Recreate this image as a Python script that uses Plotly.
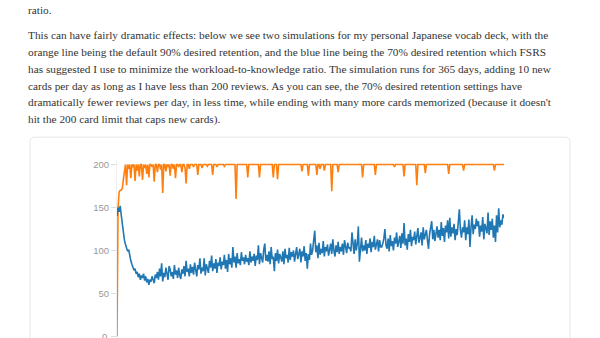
import plotly.graph_objects as go

# ---------------- data ----------------
days = list(range(365))

reviews_90 = [
    0, 150, 168, 170, 170, 172, 183, 194, 200, 176,
    200, 195, 200, 184, 200, 198, 200, 181, 200, 193,
    200, 186, 200, 200, 182, 200, 196, 200, 189, 200,
    185, 200, 200, 197, 200, 180, 200, 200, 191, 200,
    200, 194, 200, 167, 200, 200, 192, 200, 198, 200,
    187, 200, 200, 195, 200, 184, 200, 200, 197, 200,
    200, 191, 200, 200, 196, 178, 200, 200, 195, 200,
    200, 200, 197, 200, 200, 200, 188, 200, 200, 200,
    196, 200, 200, 200, 200, 198, 200, 200, 200, 200,
    188, 200, 200, 200, 197, 200, 200, 200, 200, 200,
    200, 198, 200, 200, 200, 200, 200, 200, 200, 200,
    200, 200, 160, 200, 200, 200, 200, 200, 200, 200,
    200, 200, 200, 185, 200, 200, 200, 200, 200, 200,
    200, 200, 200, 200, 185, 200, 200, 200, 200, 200,
    200, 200, 200, 200, 200, 200, 200, 185, 200, 200,
    200, 183, 200, 200, 200, 200, 200, 200, 200, 200,
    200, 200, 200, 200, 200, 200, 200, 200, 200, 200,
    200, 200, 200, 200, 192, 200, 200, 200, 200, 200,
    187, 200, 200, 200, 200, 200, 200, 200, 188, 200,
    200, 195, 200, 200, 200, 193, 200, 200, 200, 200,
    200, 200, 169, 200, 200, 200, 200, 200, 191, 200,
    200, 200, 200, 200, 200, 200, 200, 200, 200, 200,
    200, 200, 200, 200, 200, 200, 200, 200, 200, 200,
    200, 185, 200, 200, 200, 200, 200, 200, 200, 200,
    200, 200, 200, 188, 200, 200, 200, 200, 200, 200,
    200, 200, 200, 200, 200, 200, 200, 200, 200, 200,
    200, 197, 200, 200, 200, 200, 200, 200, 200, 200,
    186, 200, 200, 200, 200, 200, 200, 200, 200, 200,
    200, 200, 176, 200, 200, 200, 200, 200, 200, 200,
    190, 200, 200, 200, 200, 200, 200, 200, 200, 200,
    200, 200, 200, 200, 200, 200, 200, 200, 200, 200,
    200, 200, 189, 200, 200, 200, 200, 200, 200, 200,
    200, 200, 200, 200, 200, 200, 193, 200, 200, 200,
    200, 200, 200, 200, 200, 200, 200, 200, 200, 200,
    200, 200, 200, 200, 200, 200, 200, 200, 200, 200,
    200, 200, 200, 200, 200, 193, 200, 200, 200, 200,
    200, 200, 200, 200, 200,
]

reviews_70 = [
    140, 150, 145, 152, 141, 130, 122, 112, 107, 103,
    99, 101, 93, 88, 84, 80, 77, 79, 73, 75,
    69, 73, 66, 71, 68, 73, 65, 70, 63, 67,
    60, 66, 64, 70, 67, 62, 72, 68, 75, 66,
    79, 70, 85, 64, 74, 69, 80, 71, 66, 82,
    78, 70, 75, 67, 83, 72, 77, 68, 80, 71,
    67, 78, 73, 82, 70, 88, 75, 79, 70, 84,
    74, 81, 72, 86, 76, 70, 83, 78, 91, 73,
    80, 76, 91, 71, 84, 78, 74, 88, 80, 94,
    76, 85, 79, 90, 74, 86, 82, 92, 78, 87,
    83, 95, 79, 89, 75, 96, 84, 91, 80, 104,
    86, 93, 80, 97, 85, 90, 83, 98, 88, 92,
    84, 95, 87, 91, 83, 99, 86, 93, 88, 96,
    82, 94, 89, 106, 84, 97, 90, 86, 101, 108,
    88, 95, 87, 99, 84, 104, 90, 93, 76, 97,
    88, 101, 85, 96, 92, 87, 99, 84, 102, 91,
    95, 86, 103, 89, 98, 93, 100, 87, 96, 104,
    90, 98, 102, 86, 99, 93, 105, 88, 97, 79,
    96, 89, 108, 95, 100, 112, 123, 98, 106, 91,
    109, 95, 102, 97, 111, 93, 104, 99, 107, 94,
    101, 108, 96, 113, 100, 93, 106, 98, 110, 96,
    104, 99, 108, 95, 112, 101, 97, 109, 103, 103,
    99, 121, 105, 96, 113, 100, 108, 128, 87, 102,
    115, 99, 106, 100, 112, 96, 108, 103, 114, 98,
    110, 104, 117, 101, 107, 113, 99, 112, 104, 104,
    108, 114, 125, 106, 102, 114, 99, 118, 105, 111,
    100, 115, 108, 121, 104, 110, 117, 103, 120, 108,
    132, 106, 114, 101, 119, 110, 124, 105, 116, 112,
    122, 107, 118, 126, 109, 115, 121, 106, 127, 113,
    118, 124, 112, 102, 119, 126, 134, 113, 124, 111,
    120, 128, 115, 124, 112, 133, 117, 126, 110, 129,
    121, 135, 114, 138, 116, 127, 120, 131, 112, 125,
    118, 132, 148, 124, 115, 127, 121, 135, 112, 127,
    119, 136, 104, 127, 141, 119, 130, 125, 137, 128,
    134, 116, 129, 122, 139, 113, 131, 126, 120, 144,
    118, 134, 124, 137, 115, 129, 110, 141, 121, 149,
    127, 135, 130, 142, 138,
]

y_ticks = [0, 50, 100, 150, 200]
y_tick_text = ["", "50", "100", "150", "200"]  # "0" is drawn separately (cut by page edge)

paragraph = [
    "ratio.",
    "This can have fairly dramatic effects: below we see two simulations for my personal Japanese vocab deck, with the",
    "orange line being the default 90% desired retention, and the blue line being the 70% desired retention which FSRS",
    "has suggested I use to minimize the workload-to-knowledge ratio. The simulation runs for 365 days, adding 10 new",
    "cards per day as long as I have less than 200 reviews. As you can see, the 70% desired retention settings have",
    "dramatically fewer reviews per day, in less time, while ending with many more cards memorized (because it doesn't",
    "hit the 200 card limit that caps new cards).",
]

# ---------------- figure ----------------
W, H = 600, 338
fig = go.Figure()
fig.add_trace(go.Scatter(x=days, y=reviews_90, mode="lines",
                         line=dict(color="#ff7f0e", width=1.6), name="90%"))
fig.add_trace(go.Scatter(x=days, y=reviews_70, mode="lines",
                         line=dict(color="#1f77b4", width=1.6), name="70%"))

tick_font = dict(family="Liberation Sans", size=9.5, color="#999999")

# text block
line_y = [8] + [33.5 + 17 * i for i in range(6)]
annotations = []
for txt, py in zip(paragraph, line_y):
    annotations.append(dict(
        text=txt, xref="paper", yref="paper", x=26 / W, y=1 - py / H,
        xanchor="left", yanchor="middle", showarrow=False,
        font=dict(family="'Liberation Serif', 'Times New Roman', serif",
                  size=11.3, color="#333333"),
    ))

# card outline with rounded top corners
x0, x1 = 30 / W, 570 / W
yt = 1 - 136 / H
yb = -0.1
rx, ry = 5 / W, 5 / H
card = (f"M {x0},{yb} L {x0},{yt - ry} Q {x0},{yt} {x0 + rx},{yt} "
        f"L {x1 - rx},{yt} Q {x1},{yt} {x1},{yt - ry} L {x1},{yb}")

px_per_unit = 0.88
zero_px = 339.5
top_val = 204
bottom_val = -(zero_px - H) / px_per_unit
plot_top_px = zero_px - top_val * px_per_unit

# zero label, partly below the page edge
annotations.append(dict(
    text=str(y_ticks[0]), xref="paper", yref="y", x=108.5 / W, y=y_ticks[0],
    xanchor="right", yanchor="middle", showarrow=False, font=tick_font,
))

fig.update_layout(
    width=W, height=H, margin=dict(l=0, r=0, t=0, b=0),
    paper_bgcolor="white", plot_bgcolor="rgba(0,0,0,0)",
    showlegend=False,
    annotations=annotations,
    shapes=[dict(type="path", path=card, xref="paper", yref="paper",
                 line=dict(color="#e6e6e6", width=1), fillcolor="white",
                 layer="below")],
    xaxis=dict(domain=[117 / W, 504 / W], range=[0, 364],
               showgrid=False, zeroline=False, showline=False,
               showticklabels=False, ticks=""),
    yaxis=dict(domain=[0, 1 - plot_top_px / H], range=[bottom_val, top_val],
               tickvals=y_ticks, ticktext=y_tick_text,
               showgrid=False, zeroline=False,
               showline=True, linecolor="#f0f0f0", linewidth=1,
               ticks="outside", ticklen=5, tickcolor="#dddddd",
               tickfont=tick_font),
)

fig.write_html("out.html")
